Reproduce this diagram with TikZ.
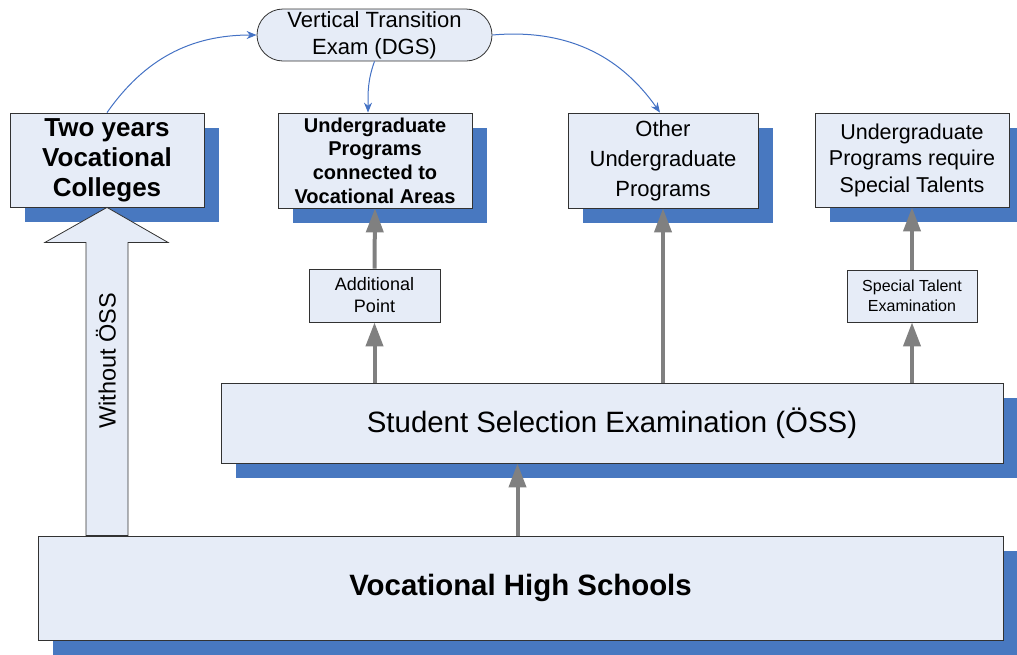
\documentclass[tikz,border=0pt]{standalone}
\usepackage{fontspec}
\setmainfont{Liberation Sans}
\usetikzlibrary{arrows.meta,shadows,calc}
\definecolor{boxfill}{RGB}{230,236,247}
\definecolor{shblue}{RGB}{72,120,192}
\definecolor{lineblue}{RGB}{68,114,196}
\definecolor{arrgray}{RGB}{128,128,128}
\definecolor{edgecol}{RGB}{50,50,50}
\tikzset{
 box/.style={draw=edgecol, line width=0.8pt, fill=boxfill, align=center, inner sep=0pt},
 shbox/.style={box, drop shadow={shadow xshift=15pt, shadow yshift=-15pt, fill=shblue, opacity=1}},
 garrow/.style={draw=arrgray, line width=4pt, -{Triangle[length=24pt,width=17pt]}},
 barrow/.style={draw=lineblue, line width=1pt, -{Stealth[length=10pt,width=8pt]}},
 hollow/.style={draw=edgecol, line width=0.8pt, fill=boxfill},
}
\begin{document}
\begin{tikzpicture}[x=1pt,y=1pt]
\useasboundingbox (0,0) rectangle (1017,-654);
\clip (0,0) rectangle (1017,-654);

\node[shbox, minimum width=782pt, minimum height=80pt, font=\fontsize{29.4}{34}\selectfont] (oss) at (612,-423) {Student Selection Examination (ÖSS)};
\node[shbox, minimum width=965pt, minimum height=104pt, font=\fontsize{29.4}{34}\selectfont\bfseries] (vhs) at (520.5,-588) {Vocational High Schools};

\node[shbox, minimum width=194pt, minimum height=94pt, font=\fontsize{26}{30}\selectfont\bfseries] (two) at (107,-160) {Two years\\Vocational\\Colleges};
\node[shbox, minimum width=194pt, minimum height=95pt, font=\fontsize{20}{23.7}\selectfont\bfseries] (ug) at (375,-160.5) {Undergraduate\\Programs\\connected to\\Vocational Areas};
\node[shbox, minimum width=190pt, minimum height=95pt, font=\fontsize{22}{30}\selectfont] (other) at (663,-160.5) {Other\\Undergraduate\\Programs};
\node[shbox, minimum width=194pt, minimum height=94pt, font=\fontsize{21.5}{26.5}\selectfont] (spec) at (912,-160) {Undergraduate\\Programs require\\Special Talents};
\node[box, rounded corners=26pt, minimum width=235pt, minimum height=52pt, font=\fontsize{22}{27}\selectfont] (vt) at (374.5,-35) {Vertical Transition\\Exam (DGS)};
\node[box, minimum width=131pt, minimum height=53pt, font=\fontsize{18}{22}\selectfont] (addp) at (374.5,-295.5) {Additional\\Point};
\node[box, minimum width=130pt, minimum height=52pt, font=\fontsize{16}{20}\selectfont] (ste) at (912,-296) {Special Talent\\Examination};

% hollow arrow
\coordinate (tip) at (two.south);
\coordinate (base) at (two.south |- vhs.north);
\draw[hollow] ([xshift=-21pt]base) -- ([xshift=-21pt,yshift=-35pt]tip) -- ([xshift=-62pt,yshift=-35pt]tip) -- (tip) -- ([xshift=61pt,yshift=-35pt]tip) -- ([xshift=21pt,yshift=-35pt]tip) -- ([xshift=21pt]base) -- cycle;
\node[rotate=90, font=\fontsize{23.5}{27}\selectfont] (wo) at (106,-361) {Without ÖSS};

% gray arrows
\draw[garrow] (oss.north -| addp.south) -- (addp.south);
\draw[garrow] (addp.north) -- (ug.south);
\draw[garrow] (oss.north -| other.south) -- (other.south);
\draw[garrow] (oss.north -| ste.south) -- (ste.south);
\draw[garrow] (ste.north) -- (spec.south);
\coordinate (v1) at ([xshift=-3pt]vhs.north);
\draw[garrow] (v1) -- (v1 |- oss.south);

% blue curves
\draw[barrow] (two.north) to[out=55,in=180] (vt.west);
\draw[barrow] (vt.south) to[out=-110,in=90] ([xshift=-7pt]ug.north);
\draw[barrow] (vt.east) to[out=5,in=125] ([xshift=-3pt]other.north);
\end{tikzpicture}
\end{document}
